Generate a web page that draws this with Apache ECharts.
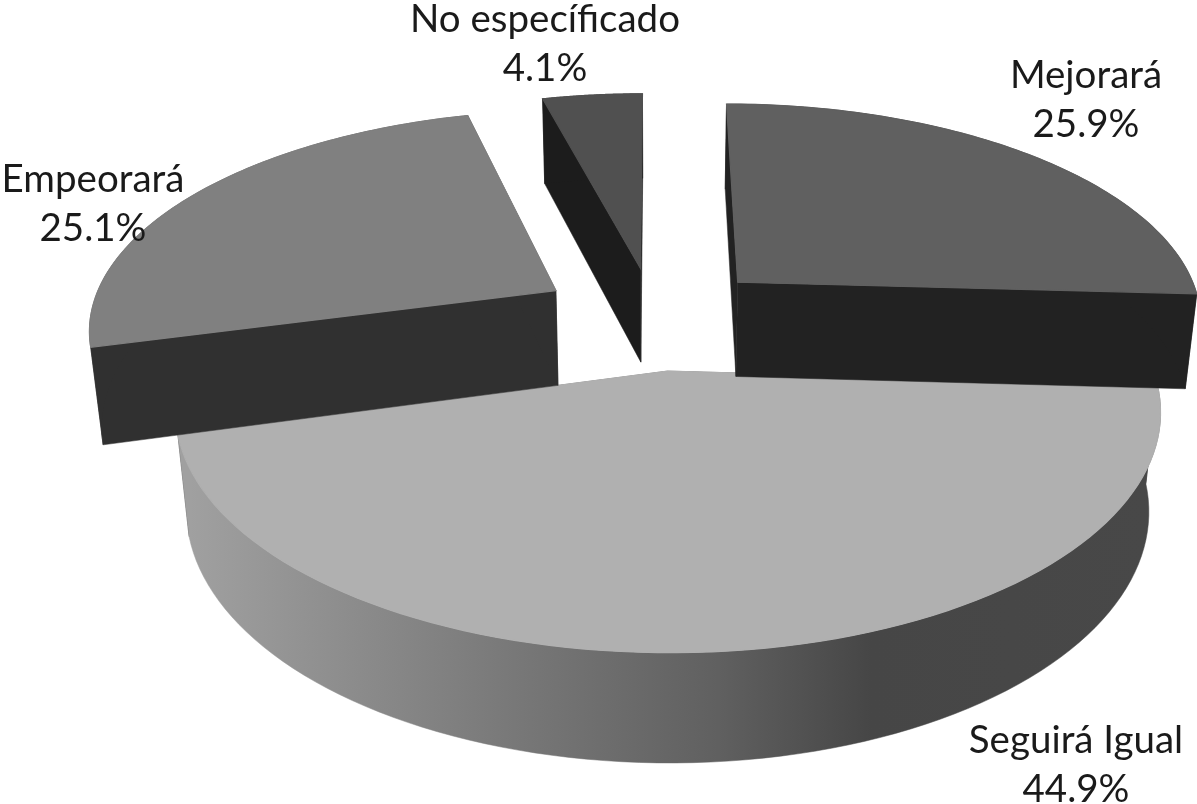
<!DOCTYPE html>
<html>
<head>
<meta charset="utf-8">
<style>html,body{margin:0;padding:0;background:#fff}#c{width:1197px;height:804px}</style>
<script src="https://cdn.jsdelivr.net/npm/echarts@6/dist/echarts.min.js"></script>
</head>
<body>
<div id="c"></div>
<script>
const categories = ['Mejorará', 'Seguirá Igual', 'Empeorará', 'No específicado'];
const shares = [25.9, 44.9, 25.1, 4.1];

const startAngle = 0;
const view = { cx: 655, cy: 314, rx: 466, ry: 216, depth: 98, persp: 0.16, conv: 0.022, explodeX: 0.25 };
const explodeY = [0.22, 0.255, 0.22, 0.22];
const topColors = ['#606060', '#b0b0b0', '#808080', '#505050'];
const wallColors = ['#222222', null, '#303030', '#1c1c1c'];
const paintOrder = [3, 1, 2, 0];
const labelAnchors = [[1086, 100], [1076, 765], [93, 204], [545, 44]];

function project(u, v, z) {
  const w = 1 - view.persp * v + view.conv * z;
  return [view.cx + view.rx * u / w, view.cy + (view.ry * v + view.depth * z) / w];
}
function seguiraGradient() {
  return new echarts.graphic.LinearGradient(190, 0, 1150, 0, [
    { offset: 0, color: '#a0a0a0' },
    { offset: 0.32, color: '#7a7a7a' },
    { offset: 0.55, color: '#606060' },
    { offset: 0.71, color: '#464646' },
    { offset: 1, color: '#484848' }
  ], true);
}
const total = shares.reduce((a, b) => a + b, 0);

function renderItem(params, api) {
  const i = params.dataIndex;
  const value = api.value(0);
  let before = 0;
  for (let j = 0; j < i; j++) before += shares[j];
  const a0 = startAngle + before / total * 360;
  const a1 = a0 + value / total * 360;
  const mid = (a0 + a1) / 2 * Math.PI / 180;
  const ou = Math.sin(mid) * view.explodeX, ov = -Math.cos(mid) * explodeY[i];
  const at = (deg, r, z) => {
    const t = deg * Math.PI / 180;
    return project(ou + r * Math.sin(t), ov - r * Math.cos(t), z);
  };
  const steps = 90;
  const arcTop = [], arcBottom = [];
  for (let s = 0; s <= steps; s++) {
    const d = a0 + (a1 - a0) * s / steps;
    arcTop.push(at(d, 1, 0));
    arcBottom.push(at(d, 1, 1));
  }
  const wallFill = wallColors[i] || seguiraGradient();
  const radialFill = wallColors[i] || '#484848';
  const z2 = paintOrder[i] * 10;
  const poly = (points, fill, z, width) => ({
    type: 'polygon', shape: { points }, z2: z,
    style: { fill, stroke: fill, lineWidth: width }
  });
  return {
    type: 'group',
    children: [
      poly([at(0, 0, 0), at(a0, 1, 0), at(a0, 1, 1), at(0, 0, 1)], radialFill, z2, 0.5),
      poly([at(0, 0, 0), at(a1, 1, 0), at(a1, 1, 1), at(0, 0, 1)], radialFill, z2, 0.5),
      poly(arcTop.concat(arcBottom.slice().reverse()), wallFill, z2 + 1, 0.5),
      poly([at(0, 0, 0)].concat(arcTop), topColors[i], z2 + 2, 1.2),
      {
        type: 'text', z2: 100,
        style: {
          x: labelAnchors[i][0], y: labelAnchors[i][1],
          text: categories[i] + '\n' + value.toFixed(1) + '%',
          font: '38.5px Lato', fill: '#1a1a1a',
          align: 'center', verticalAlign: 'middle', lineHeight: 49
        }
      }
    ]
  };
}

const chart = echarts.init(document.getElementById('c'), null, { renderer: 'canvas' });
chart.setOption({
  animation: false,
  backgroundColor: '#ffffff',
  series: [{
    type: 'custom',
    coordinateSystem: 'none',
    renderItem,
    data: shares.map((v, i) => ({ name: categories[i], value: [v] }))
  }]
});
</script>
</body>
</html>
